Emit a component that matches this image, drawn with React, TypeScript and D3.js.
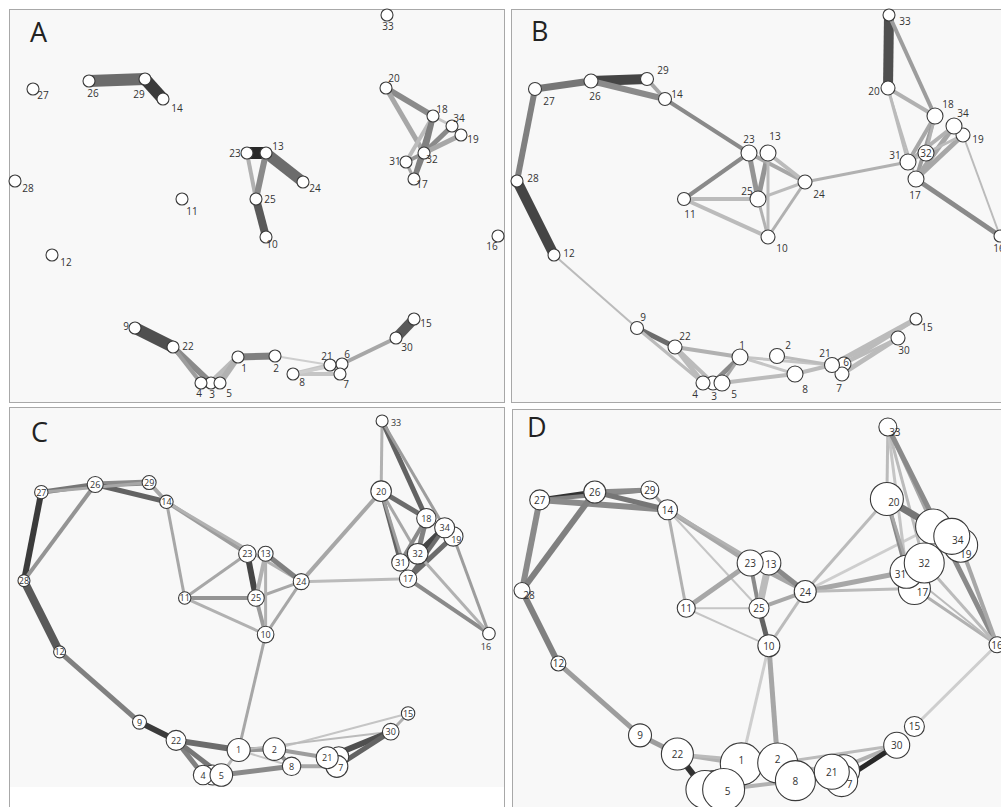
import React, { useRef, useEffect } from "react";
import * as d3 from "d3";

// [source, target, stroke width, darkness 0..1]
type Edge = [number, number, number, number];

const nodeIds = [
  1, 2, 3, 4, 5, 6, 7, 8, 9, 10, 11, 12, 13, 14, 15, 16, 17,
  18, 19, 20, 21, 22, 23, 24, 25, 26, 27, 28, 29, 30, 31, 32, 33, 34
];

// shared layout coordinates
const layoutX = [
  229, 266, 202, 192, 211, 333, 331, 284, 126, 257, 173, 43, 257, 154, 405, 489, 405,
  424, 452, 377, 321, 164, 238, 294, 247, 80, 24, 6, 136, 387, 397, 415, 378, 443
];
const layoutY = [
  348, 347, 374, 374, 374, 355, 365, 365, 319, 228, 190, 246, 144, 90, 310, 227, 170,
  107, 126, 79, 356, 338, 144, 173, 190, 72, 80, 172, 70, 329, 153, 144, 6, 117
];

const radiusA = [
  6, 6, 6, 6, 6, 6, 6, 6, 6, 6, 6, 6, 6, 6, 6, 6, 6,
  6, 6, 6, 6, 6, 6, 6, 6, 6, 6, 6, 6, 6, 6, 6, 6, 6
];
const radiusB = [
  8, 7.5, 7, 7, 8, 7, 7, 8, 6.5, 7, 6.5, 6, 8, 6.5, 6, 6, 8,
  8, 7, 7, 7.5, 7, 8, 7, 8, 7, 6.5, 6, 6.5, 7, 8, 8, 6, 8
];
const radiusC = [
  11.5, 11.3, 10, 9.7, 11.3, 10, 11, 9.2, 7, 8.3, 6.2, 6, 7.5, 6.7, 6.7, 6.3, 8.7,
  9.7, 9.7, 10.3, 11, 10, 8.7, 8, 8.3, 8, 6.7, 6, 7, 8.3, 8.7, 10.3, 6, 10
];
const radiusD = [
  21, 20, 19, 19, 21, 16, 16, 20, 11.5, 11, 9, 7.5, 12, 10, 10, 8, 16,
  17.5, 17, 16.5, 17.5, 16, 13, 11, 10, 11, 10, 8, 9, 13, 16.5, 20, 9, 18
];

const labelOffsetA: [number, number][] = [
  [6, 11], [1, 12], [1, 11], [-2, 10], [9, 10], [5, -10], [6, 10], [9, 8], [-9, -2],
  [6, 7], [10, 12], [14, 7], [12, -7], [14, 9], [12, 4], [-6, 10], [8, 5], [9, -7],
  [12, 4], [8, -10], [-3, -9], [15, -1], [-12, 0], [12, 6], [14, 0], [4, 12], [10, 6],
  [13, 7], [-6, 15], [11, 9], [-11, -1], [8, 6], [1, 11], [7, -8]
];
const labelOffsetB: [number, number][] = [
  [2, -12], [11, -11], [1, 13], [-8, 11], [12, 11], [2, -2], [-3, 14], [10, 15], [6, -11],
  [14, 11], [6, 15], [15, -2], [7, -17], [12, -5], [11, 8], [-1, 12], [-1, 16], [13, -12],
  [15, 4], [-14, 3], [-7, -12], [10, -11], [0, -14], [14, 12], [-11, -8], [4, 15], [14, 12],
  [16, -3], [16, -9], [6, 12], [-13, -7], [0, 0], [16, 6], [9, -13]
];
const labelOffsetC: [number, number][] = [
  [0, 0], [0, 0], [0, 0], [0, 0], [0, 0], [0, 0], [4, 1], [0, 0], [0, 0],
  [0, 0], [0, 0], [0, 0], [0, 0], [0, 0], [0, 0], [-3, 13], [0, 0], [0, 0],
  [3, 3], [0, 0], [0, 0], [0, 0], [0, 0], [0, 0], [0, 0], [0, 0], [0, 0],
  [0, 0], [0, 0], [0, 0], [0, 0], [0, 0], [14, 2], [0, 0]
];
const labelOffsetD: [number, number][] = [
  [0, -4], [0, -4], [0, 0], [0, 0], [4, 1], [0, 0], [8, 3], [0, 0], [0, 0],
  [0, 0], [0, 0], [0, 0], [2, 1], [0, 0], [0, 0], [0, 0], [8, 3], [12, 8],
  [5, 9], [7, 3], [0, 0], [0, 0], [0, 0], [0, 0], [0, 0], [0, 0], [0, 0],
  [7, 4], [0, 0], [0, 0], [-6, 2], [0, 0], [7, 5], [6, 4]
];

// labels that sit under other circles in the figure and cannot be seen
const hiddenLabelsC = [3, 6];
const hiddenLabelsD = [3, 4, 6, 18];

const edgesA: Edge[] = [
  [26, 29, 12, 0.6], [29, 14, 12, 0.85], [23, 13, 12, 0.95], [13, 24, 11, 0.6],
  [23, 25, 4, 0.25], [13, 25, 6, 0.45], [25, 10, 8, 0.7],
  [20, 18, 6, 0.45], [20, 32, 5, 0.3], [18, 32, 6, 0.5], [18, 31, 4, 0.2], [18, 17, 5, 0.5],
  [34, 32, 5, 0.45], [19, 32, 5, 0.3], [34, 18, 3, 0.15], [31, 32, 4, 0.4], [32, 17, 5, 0.5],
  [31, 17, 3, 0.3],
  [9, 22, 12, 0.75], [22, 3, 6, 0.45], [22, 4, 4, 0.35], [3, 1, 6, 0.2], [5, 1, 6, 0.25],
  [1, 2, 7, 0.5], [2, 21, 2, 0.1], [8, 21, 4, 0.15], [8, 7, 4, 0.15], [8, 6, 3, 0.1],
  [21, 6, 4, 0.15], [6, 30, 4, 0.3], [30, 15, 10, 0.7]
];
const edgesB: Edge[] = [
  [33, 20, 10, 0.75], [33, 18, 4, 0.35], [20, 18, 4, 0.25], [20, 31, 3, 0.2], [20, 17, 2, 0.2],
  [18, 31, 4, 0.3], [18, 17, 4, 0.35], [18, 32, 3, 0.25], [34, 17, 5, 0.3], [19, 17, 5, 0.3],
  [34, 31, 4, 0.25], [19, 31, 3, 0.2], [19, 16, 2, 0.2], [17, 16, 5, 0.45], [24, 31, 3, 0.25],
  [27, 26, 7, 0.55], [26, 29, 10, 0.8], [26, 14, 6, 0.45], [29, 14, 4, 0.3], [27, 28, 6, 0.5],
  [28, 12, 10, 0.8], [14, 23, 4, 0.45], [23, 25, 5, 0.4], [13, 25, 5, 0.4], [23, 24, 4, 0.3],
  [13, 24, 4, 0.2], [23, 11, 4, 0.45], [11, 25, 4, 0.2], [11, 10, 4, 0.2], [25, 10, 3, 0.25],
  [13, 10, 3, 0.2], [25, 24, 3, 0.2], [24, 10, 3, 0.25], [12, 9, 2, 0.2], [9, 22, 5, 0.6],
  [9, 4, 3, 0.2], [22, 1, 4, 0.25], [22, 4, 5, 0.2], [22, 3, 4, 0.2], [3, 1, 5, 0.45],
  [5, 1, 3, 0.3], [5, 8, 4, 0.2], [1, 8, 3, 0.15], [1, 21, 3, 0.15], [2, 21, 3, 0.2],
  [8, 21, 4, 0.2], [21, 15, 5, 0.2], [6, 15, 4, 0.2], [7, 30, 5, 0.2], [6, 30, 3, 0.2]
];
const edgesC: Edge[] = [
  [27, 26, 5, 0.55], [26, 29, 6, 0.45], [26, 14, 5, 0.65], [29, 14, 4, 0.3], [27, 29, 3, 0.3],
  [27, 28, 6, 0.85], [26, 28, 4, 0.4], [28, 12, 8, 0.7], [12, 9, 5, 0.5], [9, 22, 6, 0.85],
  [14, 23, 4, 0.35], [14, 24, 3, 0.25], [14, 11, 3, 0.3], [23, 25, 6, 0.8], [13, 25, 4, 0.25],
  [13, 24, 5, 0.5], [23, 11, 3, 0.3], [11, 25, 4, 0.4], [11, 10, 3, 0.25], [25, 24, 3, 0.3],
  [25, 10, 4, 0.35], [13, 10, 3, 0.25], [24, 10, 3, 0.3], [24, 20, 4, 0.3], [24, 17, 3, 0.2],
  [33, 20, 3, 0.25], [33, 18, 5, 0.65], [33, 34, 3, 0.35], [20, 18, 5, 0.6], [20, 31, 4, 0.65],
  [20, 17, 3, 0.35], [20, 32, 3, 0.3], [18, 32, 5, 0.5], [18, 31, 4, 0.45], [34, 32, 6, 0.8],
  [34, 17, 4, 0.6], [19, 17, 5, 0.6], [19, 16, 3, 0.35], [17, 16, 4, 0.45], [32, 16, 3, 0.25],
  [10, 1, 3, 0.3], [22, 1, 6, 0.6], [22, 4, 5, 0.5], [22, 5, 5, 0.55], [1, 2, 5, 0.4],
  [1, 5, 3, 0.2], [2, 21, 4, 0.35], [2, 8, 4, 0.4], [5, 8, 5, 0.45], [1, 8, 2, 0.15],
  [8, 7, 4, 0.3], [2, 15, 2, 0.15], [1, 30, 2, 0.2], [21, 30, 6, 0.75], [7, 30, 5, 0.65],
  [30, 15, 3, 0.25]
];
const edgesD: Edge[] = [
  [27, 26, 5, 0.9], [27, 29, 4, 0.5], [27, 14, 6, 0.45], [26, 29, 5, 0.45], [26, 14, 5, 0.55],
  [29, 14, 3, 0.3], [27, 28, 6, 0.45], [26, 28, 6, 0.5], [28, 12, 6, 0.5], [12, 9, 5, 0.35],
  [9, 22, 5, 0.35], [22, 1, 4, 0.25], [22, 2, 3, 0.2], [22, 4, 6, 0.9], [14, 23, 5, 0.3],
  [14, 24, 3, 0.25], [14, 11, 3, 0.25], [14, 25, 2, 0.15], [23, 11, 5, 0.3], [23, 25, 4, 0.45],
  [13, 25, 7, 0.2], [23, 24, 4, 0.3], [13, 24, 5, 0.45], [11, 25, 2, 0.15], [11, 10, 2, 0.15],
  [25, 10, 5, 0.65], [24, 10, 3, 0.2], [25, 24, 4, 0.3], [24, 20, 3, 0.2], [24, 18, 3, 0.1],
  [24, 31, 5, 0.3], [24, 17, 3, 0.2], [33, 20, 3, 0.2], [33, 31, 3, 0.15], [33, 32, 3, 0.2],
  [33, 18, 3, 0.3], [33, 16, 5, 0.45], [20, 18, 7, 0.55], [20, 31, 4, 0.45], [20, 17, 3, 0.3],
  [10, 1, 3, 0.1], [10, 2, 5, 0.3], [16, 15, 3, 0.1], [16, 17, 3, 0.25], [16, 32, 3, 0.2],
  [16, 31, 2, 0.2], [16, 19, 4, 0.3], [21, 30, 4, 0.25], [7, 30, 5, 0.95], [2, 30, 3, 0.2],
  [1, 2, 3, 0.2], [2, 21, 3, 0.25], [5, 8, 4, 0.25]
];

interface Panel {
  letter: string;
  frame: [number, number, number, number];
  xRange: [number, number];
  yRange: [number, number];
  letterPos: [number, number];
  radius: number[];
  labels: [number, number][];
  hidden: number[];
  edges: Edge[];
  labelSize: number;
}

const panels: Panel[] = [
  { letter: "A", frame: [9, 9, 495, 393], xRange: [9, 499], yRange: [9, 399], letterPos: [30, 42],
    radius: radiusA, labels: labelOffsetA, hidden: [], edges: edgesA, labelSize: 10 },
  { letter: "B", frame: [511, 9, 500, 393], xRange: [511, 1001], yRange: [9, 399], letterPos: [531, 41],
    radius: radiusB, labels: labelOffsetB, hidden: [], edges: edgesB, labelSize: 10 },
  { letter: "C", frame: [9, 407, 495, 410], xRange: [18.2, 489.9], yRange: [415.2, 790.4], letterPos: [31, 442],
    radius: radiusC, labels: labelOffsetC, hidden: hiddenLabelsC, edges: edgesC, labelSize: 9 },
  { letter: "D", frame: [512, 409, 500, 410], xRange: [516.1, 998], yRange: [421.1, 805.3], letterPos: [527, 437],
    radius: radiusD, labels: labelOffsetD, hidden: hiddenLabelsD, edges: edgesD, labelSize: 10 }
];

const App = () => {
  const node: any = useRef();

  useEffect(() => {
    const svg = d3.select(node.current);
    svg.selectAll("*").remove();

    const shade = d3.scaleLinear<string>().domain([0, 1]).range(["#e2e2e2", "#1e1e1e"]);

    panels.forEach(p => {
      const g = svg.append("g");
      const [fx, fy, fw, fh] = p.frame;

      g.append("rect")
        .attr("x", fx + 0.5)
        .attr("y", fy + 0.5)
        .attr("width", fw)
        .attr("height", fh)
        .attr("fill", "#f8f8f8")
        .attr("stroke", "#a8a8a8")
        .attr("stroke-width", 1);

      if (p.letter === "C") {
        // the white strip under the plot area
        g.append("rect")
          .attr("x", fx + 1)
          .attr("y", 787)
          .attr("width", fw - 1)
          .attr("height", 30)
          .attr("fill", "#fff");
      }

      g.append("text")
        .attr("x", p.letterPos[0])
        .attr("y", p.letterPos[1])
        .attr("font-family", "'Open Sans', 'Noto Sans', sans-serif")
        .attr("font-size", 27)
        .attr("fill", "#222")
        .text(p.letter);

      const x = d3.scaleLinear().domain([0, 490]).range(p.xRange);
      const y = d3.scaleLinear().domain([0, 390]).range(p.yRange);
      const px = (id: number) => x(layoutX[id - 1]);
      const py = (id: number) => y(layoutY[id - 1]);

      //edges
      g.append("g")
        .selectAll("line")
        .data(p.edges)
        .enter()
        .append("line")
        .attr("x1", d => px(d[0]))
        .attr("y1", d => py(d[0]))
        .attr("x2", d => px(d[1]))
        .attr("y2", d => py(d[1]))
        .attr("stroke", d => shade(d[3]))
        .attr("stroke-width", d => d[2])
        .attr("stroke-linecap", "butt");

      //nodes with labels
      const nodes = g
        .append("g")
        .selectAll("g")
        .data(nodeIds)
        .enter()
        .append("g")
        .attr("transform", id => `translate(${px(id)},${py(id)})`);

      nodes
        .append("circle")
        .attr("r", id => p.radius[id - 1])
        .attr("fill", "#fff")
        .attr("stroke", "#3a3a3a")
        .attr("stroke-width", 1.1);

      nodes
        .filter(id => !p.hidden.includes(id))
        .append("text")
        .attr("x", id => p.labels[id - 1][0])
        .attr("y", id => p.labels[id - 1][1])
        .attr("text-anchor", "middle")
        .attr("dominant-baseline", "central")
        .attr("font-family", "'Open Sans', 'Noto Sans', sans-serif")
        .attr("font-size", p.labelSize)
        .attr("fill", "#333")
        .text(id => String(id));
    });
  }, []);

  return (
    <svg
      ref={node}
      width={1001}
      height={807}
      style={{ position: "absolute", left: 0, top: 0, background: "#fff" }}
    ></svg>
  );
};

export default App;
